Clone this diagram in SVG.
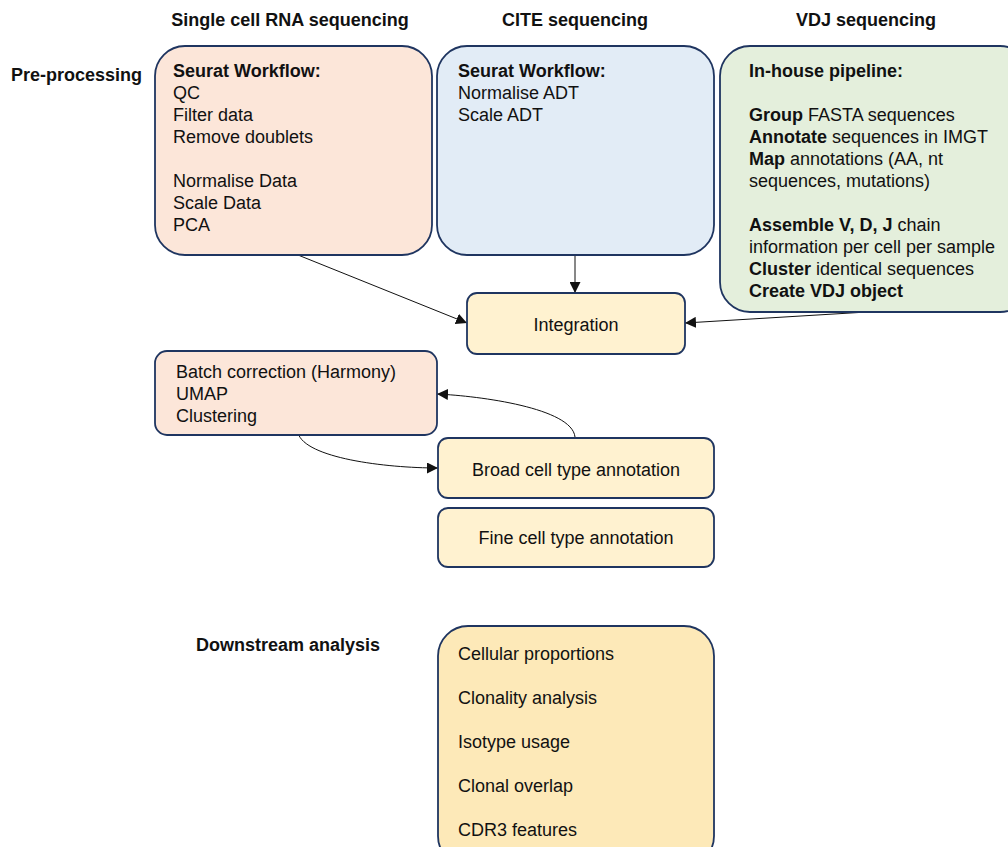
<svg xmlns="http://www.w3.org/2000/svg" width="1008" height="847" viewBox="0 0 1008 847">
<defs>
<style>
.t{font-family:"Liberation Sans",Arial,sans-serif;font-size:18px;fill:#111}
.b{font-weight:bold}
.h{font-family:"Liberation Sans",Arial,sans-serif;font-size:18px;font-weight:bold;fill:#111}
.box{stroke:#1f3560;stroke-width:1.8}
.peach{fill:#fce6d9}
.blue{fill:#e2ecf6}
.green{fill:#e4efdc}
.yel{fill:#fff2d0}
.ds{fill:#fde9b8}
.c{fill:none;stroke:#111;stroke-width:1}
</style>
<marker id="ah" viewBox="0 0 10 10" refX="10" refY="5" markerWidth="11" markerHeight="11" markerUnits="userSpaceOnUse" orient="auto">
<path d="M0,0 L10,5 L0,10 z" fill="#111"/>
</marker>
</defs>
<rect width="1008" height="847" fill="#fff"/>
<g id="headers">
<text class="h" x="290" y="26" text-anchor="middle">Single cell RNA sequencing</text>
<text class="h" x="575" y="26" text-anchor="middle">CITE sequencing</text>
<text class="h" x="866" y="26" text-anchor="middle">VDJ sequencing</text>
<text class="h" x="11" y="81">Pre-processing</text>
<text class="h" x="196" y="651">Downstream analysis</text>
</g>
<g id="connectors">
<path class="c" d="M298,255 L467,323" marker-end="url(#ah)"/>
<path class="c" d="M575,255 L575,293" marker-end="url(#ah)"/>
<path class="c" d="M867,312 L685,323" marker-end="url(#ah)"/>
<path class="c" d="M575,437 C572,408 480,396 437,394" marker-end="url(#ah)"/>
<path class="c" d="M298,433 C305,458 385,468 438,468" marker-end="url(#ah)"/>
</g>
<g id="scrna">
<rect class="box peach" x="155" y="46" width="277" height="209" rx="30"/>
<text class="t" x="173" y="77"><tspan class="b">Seurat Workflow:</tspan><tspan x="173" dy="22">QC</tspan><tspan x="173" dy="22">Filter data</tspan><tspan x="173" dy="22">Remove doublets</tspan><tspan x="173" dy="44">Normalise Data</tspan><tspan x="173" dy="22">Scale Data</tspan><tspan x="173" dy="22">PCA</tspan></text>
</g>
<g id="cite">
<rect class="box blue" x="437" y="46" width="277" height="209" rx="30"/>
<text class="t" x="458" y="77"><tspan class="b">Seurat Workflow:</tspan><tspan x="458" dy="22">Normalise ADT</tspan><tspan x="458" dy="22">Scale ADT</tspan></text>
</g>
<g id="vdj">
<rect class="box green" x="720" y="46" width="310" height="266" rx="30"/>
<text class="t" x="749" y="77"><tspan class="b">In-house pipeline:</tspan><tspan x="749" dy="44" class="b">Group</tspan><tspan> FASTA sequences</tspan><tspan x="749" dy="22" class="b">Annotate</tspan><tspan> sequences in IMGT</tspan><tspan x="749" dy="22" class="b">Map</tspan><tspan> annotations (AA, nt</tspan><tspan x="749" dy="22">sequences, mutations)</tspan><tspan x="749" dy="44" class="b">Assemble V, D, J</tspan><tspan> chain</tspan><tspan x="749" dy="22">information per cell per sample</tspan><tspan x="749" dy="22" class="b">Cluster</tspan><tspan> identical sequences</tspan><tspan x="749" dy="22" class="b">Create VDJ object</tspan></text>
</g>
<g id="integration">
<rect class="box yel" x="467" y="293" width="218" height="61" rx="10"/>
<text class="t" x="576" y="331" text-anchor="middle">Integration</text>
</g>
<g id="batch">
<rect class="box peach" x="155" y="351" width="282" height="84" rx="12"/>
<text class="t" x="176" y="378"><tspan>Batch correction (Harmony)</tspan><tspan x="176" dy="22">UMAP</tspan><tspan x="176" dy="22">Clustering</tspan></text>
</g>
<g id="broad">
<rect class="box yel" x="438" y="438" width="276" height="60" rx="10"/>
<text class="t" x="576" y="476" text-anchor="middle">Broad cell type annotation</text>
</g>
<g id="fine">
<rect class="box yel" x="438" y="508" width="276" height="59" rx="10"/>
<text class="t" x="576" y="544" text-anchor="middle">Fine cell type annotation</text>
</g>
<g id="downstream">
<rect class="box ds" x="438" y="626" width="276" height="240" rx="30"/>
<text class="t" x="458" y="660"><tspan>Cellular proportions</tspan><tspan x="458" dy="44">Clonality analysis</tspan><tspan x="458" dy="44">Isotype usage</tspan><tspan x="458" dy="44">Clonal overlap</tspan><tspan x="458" dy="44">CDR3 features</tspan></text>
</g>
</svg>
